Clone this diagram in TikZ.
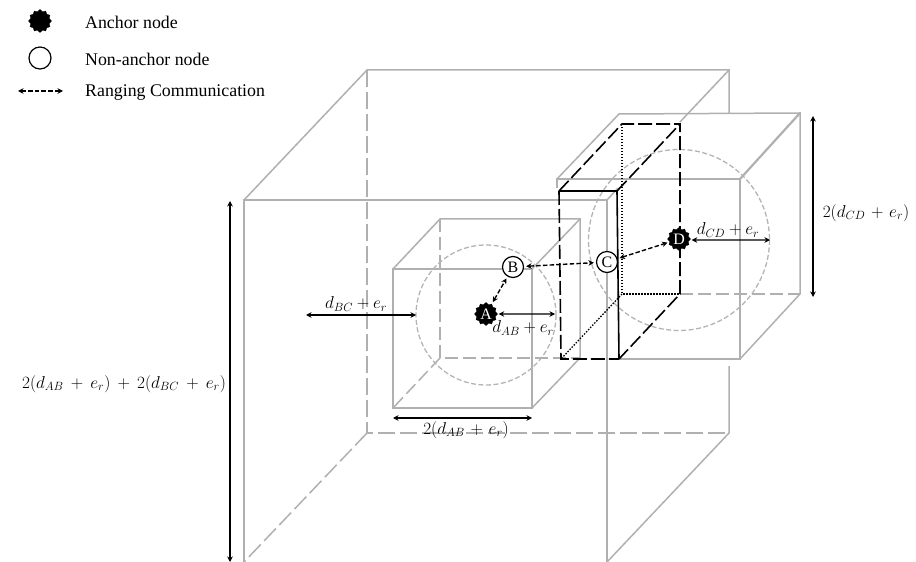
\documentclass[tikz,border=0pt]{standalone}
\usepackage{fontspec}
\setmainfont{Liberation Serif}
\usetikzlibrary{arrows.meta,shapes.geometric}
\definecolor{cubegrey}{HTML}{B0B0B0}
\definecolor{ringgrey}{HTML}{B4B4B4}
\tikzset{
  x=1bp,y=-1bp,
  cube/.style={draw=cubegrey,line width=1.5bp},
  cubehid/.style={cube,dash pattern=on 13bp off 5bp},
  cubehidlong/.style={cube,dash pattern=on 17bp off 5bp},
  ring/.style={draw=ringgrey,line width=1.3bp,dash pattern=on 5bp off 2.5bp},
  blk/.style={draw=black,line width=1.6bp},
  blkdash/.style={blk,dash pattern=on 14bp off 4bp},
  blkdot/.style={draw=black,line width=1.3bp,dash pattern=on 1.5bp off 1.5bp},
  dim/.style={draw=black,line width=1.3bp,{Stealth[length=5.5bp,width=5.5bp]}-{Stealth[length=5.5bp,width=5.5bp]}},
  rangelink/.style={draw=black,line width=1.4bp,dash pattern=on 4.5bp off 2.2bp,{Stealth[length=5.5bp,width=5.5bp]}-{Stealth[length=5.5bp,width=5.5bp]},shorten >=2bp,shorten <=2bp},
  anchornode/.style={star,star points=12,star point ratio=1.2,fill=black,draw=black,line width=0.3bp,inner sep=0pt,minimum size=23bp,text=white,font=\fontsize{16}{16}\selectfont},
  freenode/.style={circle,draw=black,fill=white,line width=1.2bp,inner sep=0pt,minimum size=21bp,font=\fontsize{16}{16}\selectfont},
  legendtext/.style={anchor=base west,inner sep=0pt,font=\fontsize{17.9}{20}\selectfont},
  lab/.style={inner sep=0pt,font=\fontsize{18}{20}\selectfont},
}
\begin{document}
\begin{tikzpicture}
\useasboundingbox (0,0) rectangle (916,562);
% big cube
\draw[cube] (244,562) -- (244,200) -- (607,200) -- (607,562);
\draw[cube] (244,200) -- (367,70) -- (729,70) -- (729,113);
\draw[cube] (607,200) -- (618,188);
\draw[cube] (680,122) -- (729,70);
\draw[cube] (729,366) -- (729,433) -- (607,562);
\draw[cubehidlong] (367,70) -- (367,433) -- (729,433);
\draw[cubehidlong] (367,433) -- (244,562);
% small cube
\draw[cube] (393,269) rectangle (532,408);
\draw[cube] (393,269) -- (440,219) -- (580,219) -- (580,358) -- (532,408);
\draw[cube] (532,269) -- (580,219);
\draw[cubehid] (440,219) -- (440,358) -- (580,358);
\draw[cubehid] (440,358) -- (393,408);
% grey cube round D
\draw[cube] (557,188) -- (557,179) -- (740,179) -- (740,359) -- (619,359);
\draw[cube] (557,179) -- (619,114) -- (800,113) -- (800,294) -- (740,359);
\draw[cube,line width=2.2bp] (740,179) -- (800,113);
\draw[cubehid] (680,294) -- (800,294);
% spheres
\draw[ring] (486,315) circle[radius=70];
\draw[ring] (679,240) circle[radius=90.5];
% black box
\draw[blkdot] (622,124) -- (622,294) -- (680,294);
\draw[blkdot] (622,294) -- (561,359);
\draw[blk] (559,191) -- (617,191) -- (619,359);
\draw[blkdash] (559,191) -- (561,359) -- (619,359);
\draw[blkdash] (559,191) -- (622,124) -- (680,124) -- (680,294) -- (619,359);
\draw[blkdash] (617,191) -- (680,124);
% nodes
\node[anchornode] (a) at (486,314) {A};
\node[freenode] (b) at (513,267) {B};
\node[freenode] (c) at (607,262) {C};
\node[anchornode] (d) at (679,239) {D};
\draw[rangelink] (a) -- (b);
\draw[rangelink] (b) -- (c);
\draw[rangelink] (c) -- (d);
% dimensions
\coordinate (ringAe) at (555,314);
\coordinate (bcL) at (306,315);
\coordinate (bcR) at (416,315);
\coordinate (abL) at (393,418);
\coordinate (abR) at (532,418);
\coordinate (totT) at (230,201);
\coordinate (totB) at (230,562);
\coordinate (ringDe) at (770,240);
\coordinate (cdT) at (813,116);
\coordinate (cdB) at (813,297);
\draw[dim] (a.east) ++(1,0) -- (ringAe);
\draw[dim] (bcL) -- (bcR);
\draw[dim] (abL) -- (abR);
\draw[dim] (totT) -- (totB);
\draw[dim] (d.east) ++(1,1) -- (ringDe);
\draw[dim] (cdT) -- (cdB);
\node[lab] (lab1) at (523,328) {$d_{AB}+e_r$};
\node[lab] (lab2) at (356,304) {$d_{BC}+e_r$};
\node[lab] (lab3) at (466,430) {$\medmuskip=6mu 2(d_{AB}+e_r)$};
\node[lab] (lab4) at (124,384) {$\medmuskip=7.5mu 2(d_{AB}+e_r)+2(d_{BC}+e_r)$};
\node[lab] (lab5) at (728,230) {$d_{CD}+e_r$};
\node[lab] (lab6) at (866,213) {$\medmuskip=6mu 2(d_{CD}+e_r)$};
% legend
\node[anchornode] (lega) at (40,21) {};
\node[freenode,minimum size=22bp] (legb) at (40,58) {};
\coordinate (legL) at (18,91);
\coordinate (legR) at (63,91);
\draw[rangelink,shorten >=0bp,shorten <=0bp] (legL) -- (legR);
\node[legendtext] (t1) at (85,28.5) {Anchor node};
\node[legendtext] (t2) at (85,65.5) {Non-anchor node};
\node[legendtext] (t3) at (85,96.5) {Ranging Communication};
\end{tikzpicture}
\end{document}
